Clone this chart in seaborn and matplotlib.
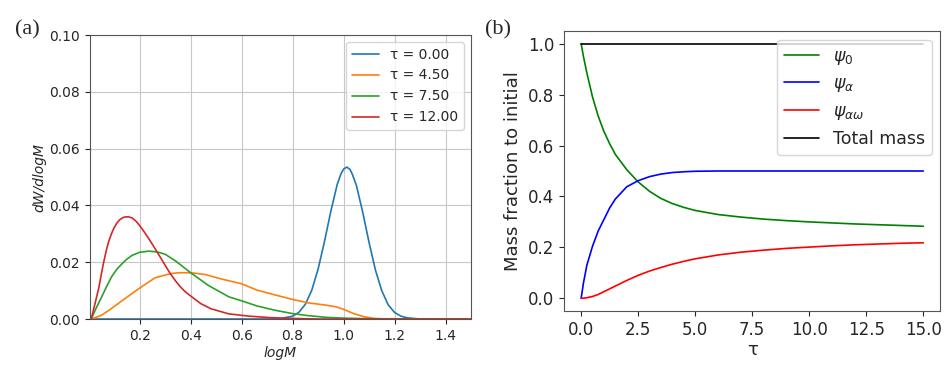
import pandas as pd
import matplotlib
matplotlib.use("Agg")
import matplotlib.pyplot as plt
import seaborn as sns

# ---- panel (a): mass distribution at several tau ----
tau_labels = ["τ = 0.00", "τ = 4.50", "τ = 7.50", "τ = 12.00"]

logM_00 = [0.01, 0.70, 0.75, 0.80, 0.825, 0.85, 0.875, 0.90, 0.925, 0.95, 0.975, 0.99, 1.00, 1.0125,
           1.025, 1.035, 1.05, 1.075, 1.10, 1.125, 1.15, 1.175, 1.20, 1.225, 1.25, 1.30, 1.50]
dW_00 = [0, 0, 0.0001, 0.0010, 0.0024, 0.0052, 0.0101, 0.0176, 0.0273, 0.0380, 0.0474, 0.0512, 0.0528,
         0.0535, 0.0527, 0.0508, 0.0471, 0.0376, 0.0269, 0.0172, 0.0099, 0.0050, 0.0023, 0.0010,
         0.0004, 0, 0]

logM_45 = [0.01, 0.05, 0.08, 0.13, 0.20, 0.26, 0.30, 0.33, 0.36, 0.39, 0.42, 0.46, 0.52, 0.60, 0.66,
           0.73, 0.80, 0.86, 0.93, 0.97, 1.00, 1.04, 1.08, 1.12, 1.16, 1.50]
dW_45 = [0, 0.0013, 0.0031, 0.0064, 0.0109, 0.0145, 0.0155, 0.0161, 0.0163, 0.0163, 0.0161, 0.0156,
         0.0141, 0.0124, 0.0102, 0.0085, 0.0069, 0.0057, 0.0049, 0.0043, 0.0034, 0.0019, 0.0008,
         0.0002, 0, 0]

logM_75 = [0.01, 0.03, 0.05, 0.07, 0.09, 0.11, 0.13, 0.15, 0.17, 0.20, 0.236, 0.27, 0.30, 0.34,
           0.40, 0.47, 0.55, 0.60, 0.66, 0.73, 0.80, 0.86, 0.93, 1.00, 1.10, 1.50]
dW_75 = [0, 0.0040, 0.0076, 0.0114, 0.0149, 0.0175, 0.0194, 0.0211, 0.0224, 0.0235, 0.0239, 0.0236,
         0.0228, 0.0205, 0.0163, 0.0118, 0.0078, 0.0064, 0.0046, 0.0031, 0.0019, 0.0012, 0.0006,
         0.0003, 0.0001, 0]

logM_12 = [0.01, 0.025, 0.04, 0.05, 0.06, 0.07, 0.08, 0.09, 0.10, 0.11, 0.12, 0.13, 0.14, 0.155,
           0.17, 0.185, 0.20, 0.22, 0.24, 0.26, 0.28, 0.30, 0.32, 0.34, 0.36, 0.38, 0.40, 0.44, 0.48,
           0.55, 0.63, 0.71, 0.80, 0.90, 1.50]
dW_12 = [0, 0.0055, 0.0111, 0.0160, 0.0205, 0.0245, 0.0277, 0.0302, 0.0322, 0.0337, 0.0348, 0.0355,
         0.0359, 0.0360, 0.0356, 0.0345, 0.0329, 0.0304, 0.0277, 0.0248, 0.0219, 0.0189, 0.0160,
         0.0135, 0.0113, 0.0095, 0.0081, 0.0054, 0.0036, 0.0018, 0.0010, 0.0005, 0.0002, 0, 0]

# ---- panel (b): mass fractions vs tau ----
tau = [0, 0.1, 0.25, 0.5, 0.75, 1.0, 1.25, 1.5, 2.0, 2.5, 3.0, 3.5, 4.0, 4.5, 5.0, 6.0, 7.0,
       8.0, 9.0, 10.0, 11.0, 12.0, 13.0, 14.0, 15.0]
psi_0 = [1.0, 0.95, 0.885, 0.79, 0.715, 0.655, 0.607, 0.565, 0.505, 0.457, 0.42, 0.392, 0.372,
         0.357, 0.345, 0.329, 0.319, 0.311, 0.305, 0.300, 0.296, 0.292, 0.289, 0.286, 0.283]
psi_a = [0, 0.06, 0.13, 0.205, 0.265, 0.31, 0.355, 0.39, 0.438, 0.462, 0.478, 0.488, 0.494,
         0.497, 0.499, 0.5, 0.5, 0.5, 0.5, 0.5, 0.5, 0.5, 0.5, 0.5, 0.5]
psi_aw = [0, 0.0005, 0.002, 0.007, 0.015, 0.026, 0.037, 0.048, 0.07, 0.09, 0.107, 0.121, 0.134,
          0.145, 0.155, 0.17, 0.181, 0.189, 0.196, 0.201, 0.206, 0.21, 0.213, 0.216, 0.218]
total = [1.0] * len(tau)
psi_labels = [r"$\psi_0$", r"$\psi_\alpha$", r"$\psi_{\alpha\omega}$", "Total mass"]

df_a = pd.concat([
    pd.DataFrame({"logM": x, "dW": y, "tau": lab})
    for x, y, lab in zip([logM_00, logM_45, logM_75, logM_12],
                         [dW_00, dW_45, dW_75, dW_12], tau_labels)
])
df_b = pd.concat([
    pd.DataFrame({"tau": tau, "frac": y, "kind": lab})
    for y, lab in zip([psi_0, psi_a, psi_aw, total], psi_labels)
])

sns.set_style("ticks")
plt.rcParams["font.family"] = ["DejaVu Sans"]

fig = plt.figure(figsize=(9.48, 3.65), dpi=100)
ax1 = fig.add_axes([0.0949, 0.126, 0.402, 0.778])
ax2 = fig.add_axes([0.595, 0.148, 0.397, 0.767])

sns.lineplot(data=df_a, x="logM", y="dW", hue="tau", palette="tab10", ax=ax1,
             linewidth=1.2, sort=False)
ax1.set_xlim(0.005, 1.5)
ax1.set_ylim(0, 0.1)
ax1.set_yticks([0, 0.02, 0.04, 0.06, 0.08, 0.10])
ax1.set_xticks([0.2, 0.4, 0.6, 0.8, 1.0, 1.2, 1.4])
ax1.grid(True, color="#c8c8c8", linewidth=0.8)
ax1.tick_params(labelsize=10)
ax1.set_xlabel("logM", fontsize=10, fontstyle="italic", labelpad=2)
ax1.set_ylabel("dW/dlogM", fontsize=10, fontstyle="italic", labelpad=2)
ax1.legend(title=None, fontsize=10, loc="upper right")
for s in ax1.spines.values():
    s.set_color("#555555")

pal_b = dict(zip(psi_labels, ["green", "blue", "red", "black"]))
sns.lineplot(data=df_b, x="tau", y="frac", hue="kind", palette=pal_b, ax=ax2,
             linewidth=1.2, sort=False)
ax2.set_yticks([0, 0.2, 0.4, 0.6, 0.8, 1.0])
ax2.set_xticks([0, 2.5, 5, 7.5, 10, 12.5, 15])
ax2.tick_params(labelsize=12)
ax2.set_xlabel("τ", fontsize=13, labelpad=2)
ax2.set_ylabel("Mass fraction to initial", fontsize=13)
ax2.legend(title=None, fontsize=12.5, loc="upper right", labelspacing=0.45)
for s in ax2.spines.values():
    s.set_color("#555555")

fig.text(0.016, 0.905, "(a)", fontsize=16, family="Liberation Serif")
fig.text(0.512, 0.905, "(b)", fontsize=16, family="Liberation Serif")

fig.savefig("out.png", dpi=100)
